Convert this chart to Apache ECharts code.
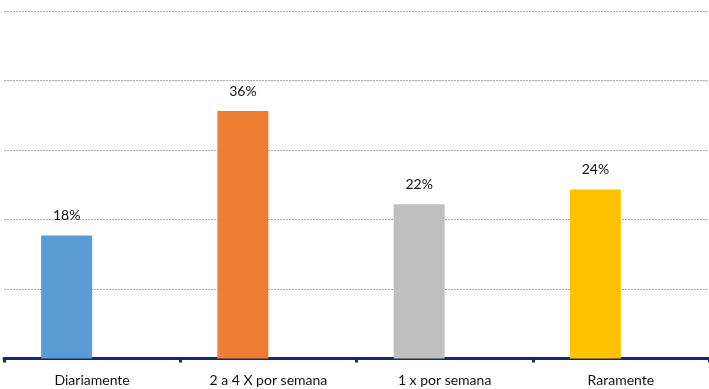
<!DOCTYPE html>
<html>
<head>
<meta charset="utf-8">
<script src="https://cdn.jsdelivr.net/npm/echarts@6/dist/echarts.min.js"></script>
<style>html,body{margin:0;padding:0;background:#fff;}#c{width:709px;height:389px;}</style>
</head>
<body>
<div id="c"></div>
<script>
const categories = ['Diariamente', '2 a 4 X por semana', '1 x por semana', 'Raramente'];
const values = [17.7, 35.6, 22.2, 24.3];
const barColors = ['#5B9BD5', '#ED7D31', '#BFBFBF', '#FFC000'];
const yTicks = [0, 10, 20, 30, 40, 50];

const chart = echarts.init(document.getElementById('c'));
chart.setOption({
  animation: false,
  grid: { left: 4, right: -3, top: 11, bottom: 30.5, containLabel: false },
  xAxis: {
    type: 'category',
    data: categories,
    axisLine: { show: true, lineStyle: { color: '#142B66', width: 3 } },
    axisTick: { show: true, alignWithLabel: false, length: 4, lineStyle: { color: '#142B66', width: 3 } },
    axisLabel: { color: '#111', fontFamily: 'Lato', fontSize: 14, margin: 15 },
    splitLine: { show: false }
  },
  yAxis: {
    type: 'value',
    min: yTicks[0],
    max: yTicks[yTicks.length - 1],
    interval: 10,
    axisLine: { show: false },
    axisTick: { show: false },
    axisLabel: { show: false },
    splitLine: { show: true, lineStyle: { color: '#ABABAB', type: [2, 1], width: 1 } }
  },
  series: [
    {
      type: 'bar',
      barWidth: 51,
      barGap: '0%',
      data: values.map((v, i) => ({ value: v, itemStyle: { color: barColors[i] } })),
      label: {
        show: true,
        position: 'top',
        distance: 13,
        color: '#111',
        fontFamily: 'Lato',
        fontSize: 14,
        formatter: p => Math.round(p.value) + '%'
      }
    },
    {
      type: 'bar',
      barWidth: 51,
      barGap: '0%',
      data: categories.map(() => null)
    }
  ]
});
</script>
</body>
</html>
